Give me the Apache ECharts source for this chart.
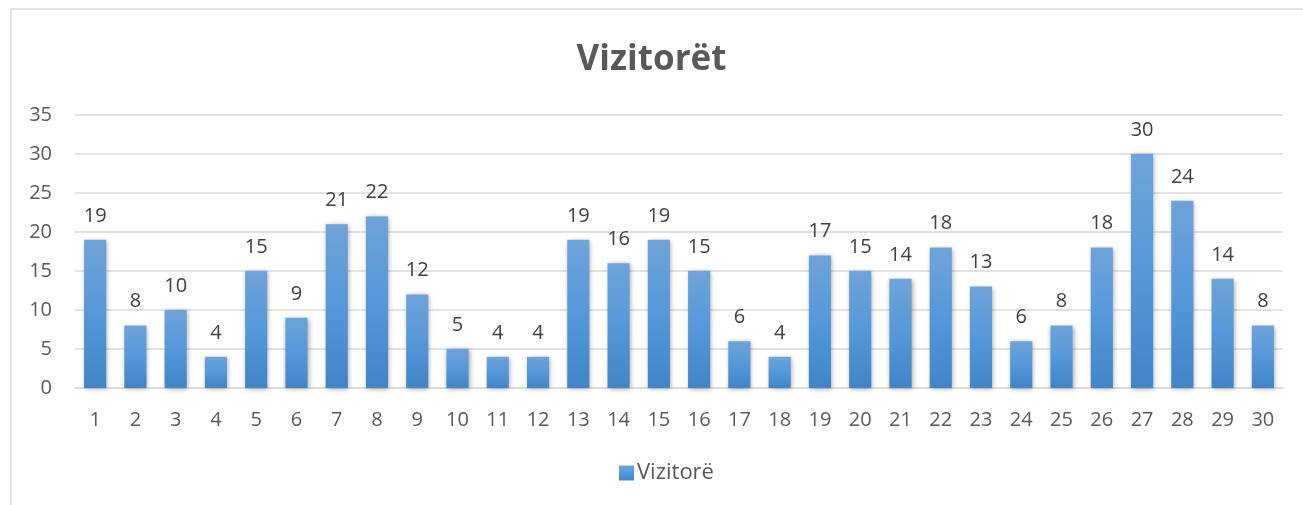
<!DOCTYPE html>
<html>
<head>
<meta charset="utf-8">
<script src="https://cdn.jsdelivr.net/npm/echarts@6/dist/echarts.min.js"></script>
<style>
  html, body { margin: 0; padding: 0; background: #fff; }
  #chart { width: 1303px; height: 505px; }
</style>
</head>
<body>
<div id="chart"></div>
<script>
var days = [];
for (var i = 1; i <= 30; i++) days.push(String(i));
var visitors = [19, 8, 10, 4, 15, 9, 21, 22, 12, 5, 4, 4, 19, 16, 19, 15, 6, 4, 17, 15, 14, 18, 13, 6, 8, 18, 30, 24, 14, 8];
var seriesName = 'Vizitorë';
var chartTitle = 'Vizitorët';

var barColor = new echarts.graphic.LinearGradient(0, 0, 0, 1, [
    { offset: 0, color: '#6fa3d9' },
    { offset: 0.5, color: '#5598da' },
    { offset: 1, color: '#4184c7' }
]);

var myEcharts = echarts.init(document.getElementById('chart'));
var option = {
    backgroundColor: '#fff',
    animation: false,
    textStyle: { fontFamily: '"Open Sans", "Noto Sans", sans-serif' },
    graphic: [{
        type: 'rect',
        shape: { x: 11, y: 9, width: 1310, height: 520 },
        style: { fill: 'none', stroke: '#d9d9d9', lineWidth: 1.5 },
        silent: true
    }],
    title: {
        text: chartTitle,
        left: 'center',
        top: 38,
        textStyle: { fontSize: 35, fontWeight: 'bold', color: '#595959' }
    },
    legend: {
        bottom: 16,
        left: 614,
        data: [{ name: seriesName, icon: 'rect' }],
        itemWidth: 15,
        itemHeight: 15,
        itemGap: 4,
        textStyle: { fontSize: 22, color: '#595959', padding: [0, 0, 0, -2] }
    },
    grid: {
        left: 75,
        right: 20,
        top: 115,
        bottom: 117
    },
    xAxis: {
        type: 'category',
        data: days,
        axisLine: { lineStyle: { color: '#d9d9d9', width: 1.5 } },
        axisTick: { show: false },
        axisLabel: { fontSize: 20, color: '#595959', margin: 22 }
    },
    yAxis: {
        type: 'value',
        min: 0,
        max: 35,
        interval: 5,
        axisLine: { show: false },
        axisTick: { show: false },
        splitLine: { lineStyle: { color: '#d9d9d9', width: 1.5 } },
        axisLabel: { fontSize: 20, color: '#595959', margin: 23 }
    },
    series: [{
        name: seriesName,
        type: 'bar',
        data: visitors,
        barWidth: '55%',
        itemStyle: {
            color: barColor,
            shadowColor: 'rgba(0,0,0,0.35)',
            shadowBlur: 5,
            shadowOffsetX: 1,
            shadowOffsetY: 1
        },
        label: {
            show: true,
            position: 'top',
            distance: 14,
            fontSize: 20,
            color: '#404040'
        }
    }]
};
myEcharts.setOption(option);
</script>
</body>
</html>
